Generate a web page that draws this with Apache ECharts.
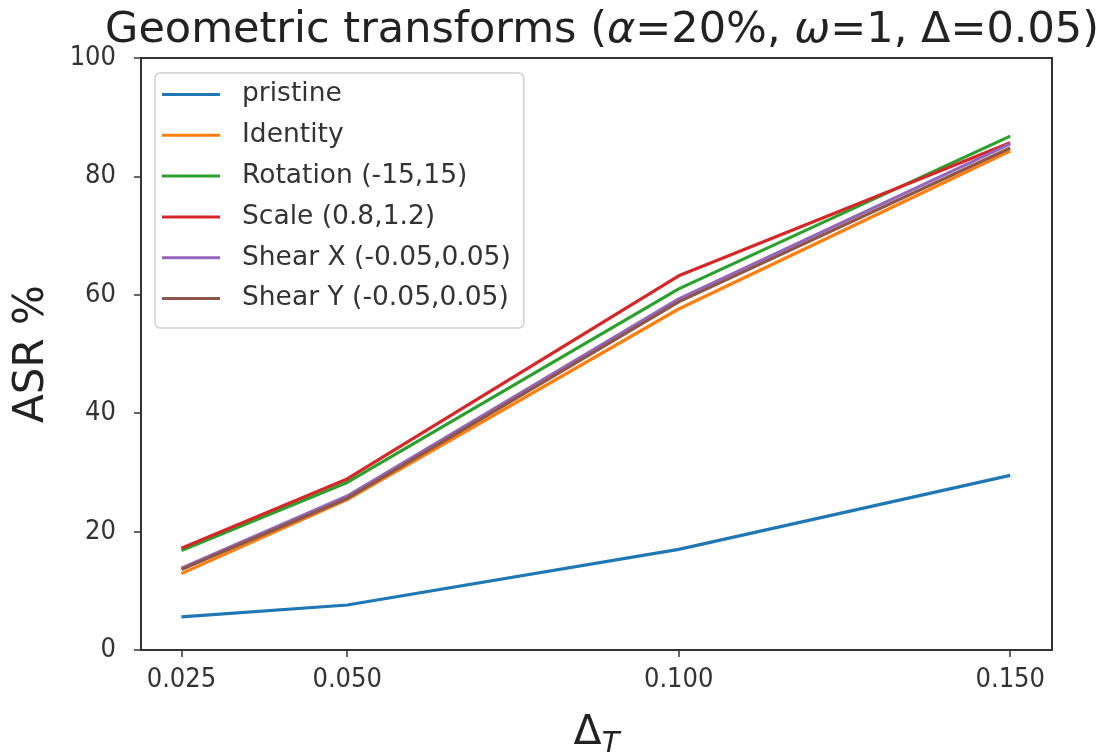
<!DOCTYPE html>
<html>
<head>
<meta charset="utf-8">
<script src="https://cdn.jsdelivr.net/npm/echarts@6/dist/echarts.min.js"></script>
<style>
  html, body { margin: 0; padding: 0; background: #fff; }
  #box1 { width: 1099px; height: 755px; }
</style>
</head>
<body>
<div id="box1"></div>
<script>
// data
var deltaT = [0.025, 0.050, 0.100, 0.150];
var seriesNames = ['pristine', 'Identity', 'Rotation (-15,15)', 'Scale (0.8,1.2)', 'Shear X (-0.05,0.05)', 'Shear Y (-0.05,0.05)'];
var pristine = [5.6, 7.6, 17.0, 29.5];
var identity = [12.9, 25.4, 57.6, 84.3];
var rotation = [16.8, 28.3, 61.0, 86.8];
var scale = [17.2, 28.9, 63.2, 85.7];
var shearX = [13.8, 26.0, 59.3, 85.5];
var shearY = [13.6, 25.6, 58.8, 84.8];
var xTicks = [0.025, 0.050, 0.100, 0.150];
var colors = ['#1f77b4', '#ff7f0e', '#2ca02c', '#d62728', '#9467bd', '#8c564b'];

var chart = echarts.init(document.getElementById('box1'));
var font = 'DejaVu Sans';
var tickFont = 'DejaVu Sans Condensed, DejaVu Sans';

function pairs(vals) {
  return vals.map(function(v, i) { return [deltaT[i], v]; });
}
var allVals = [pristine, identity, rotation, scale, shearX, shearY];

var option = {
  animation: false,
  color: colors,
  title: {
    text: '{n|Geometric transforms (}{i|α}{n|=20%, }{i|ω}{n|=1, Δ=0.05)}',
    left: 597,
    textAlign: 'center',
    top: 4,
    textStyle: {
      fontWeight: 'normal',
      rich: {
        n: { fontFamily: font, fontSize: 43, color: '#222', fontWeight: 'normal' },
        i: { fontFamily: font, fontSize: 43, color: '#222', fontStyle: 'italic', fontWeight: 'normal' }
      }
    }
  },
  legend: {
    data: seriesNames,
    orient: 'vertical',
    left: 155,
    top: 73,
    icon: 'rect',
    itemWidth: 58,
    itemHeight: 3,
    itemGap: 13.8,
    padding: [8, 13, 16, 7],
    backgroundColor: '#fff',
    borderColor: '#d0d0d0',
    borderWidth: 1.5,
    borderRadius: 5,
    textStyle: {
      fontFamily: font,
      fontSize: 26.5,
      lineHeight: 27,
      color: '#333',
      padding: [0, 0, 0, 17]
    }
  },
  grid: {
    left: 141,
    right: 47,
    top: 58,
    bottom: 105,
    outerBoundsMode: 'none',
    show: true,
    borderColor: '#333',
    borderWidth: 2
  },
  xAxis: {
    type: 'value',
    min: 0.0189,
    max: 0.1563,
    name: '{d|Δ}{s|T}',
    nameLocation: 'middle',
    nameGap: 58,
    nameTextStyle: {
      rich: {
        d: { fontFamily: font, fontSize: 41, color: '#222' },
        s: { fontFamily: font, fontSize: 29, color: '#222', fontStyle: 'italic', padding: [22, 0, 0, 0] }
      }
    },
    splitLine: { show: false },
    axisLine: { show: true, onZero: false, lineStyle: { color: '#333', width: 2 } },
    axisTick: { show: true, customValues: xTicks, length: 7, lineStyle: { color: '#333', width: 1.5 } },
    axisLabel: {
      customValues: xTicks,
      fontFamily: tickFont,
      fontSize: 27,
      color: '#333',
      margin: 16,
      formatter: function(v) { return v.toFixed(3); }
    }
  },
  yAxis: {
    type: 'value',
    min: 0,
    max: 100,
    interval: 20,
    name: 'ASR %',
    nameLocation: 'middle',
    nameGap: 88,
    nameTextStyle: { fontFamily: font, fontSize: 42, color: '#222' },
    splitLine: { show: false },
    axisLine: { show: true, lineStyle: { color: '#333', width: 2 } },
    axisTick: { show: true, length: 7, lineStyle: { color: '#333', width: 1.5 } },
    axisLabel: { fontFamily: tickFont, fontSize: 27, color: '#333', margin: 25 }
  },
  series: seriesNames.map(function(name, i) {
    return {
      name: name,
      type: 'line',
      symbol: 'none',
      data: pairs(allVals[i]),
      lineStyle: { width: 3.2, color: colors[i] },
      itemStyle: { color: colors[i] }
    };
  })
};
chart.setOption(option);
</script>
</body>
</html>
